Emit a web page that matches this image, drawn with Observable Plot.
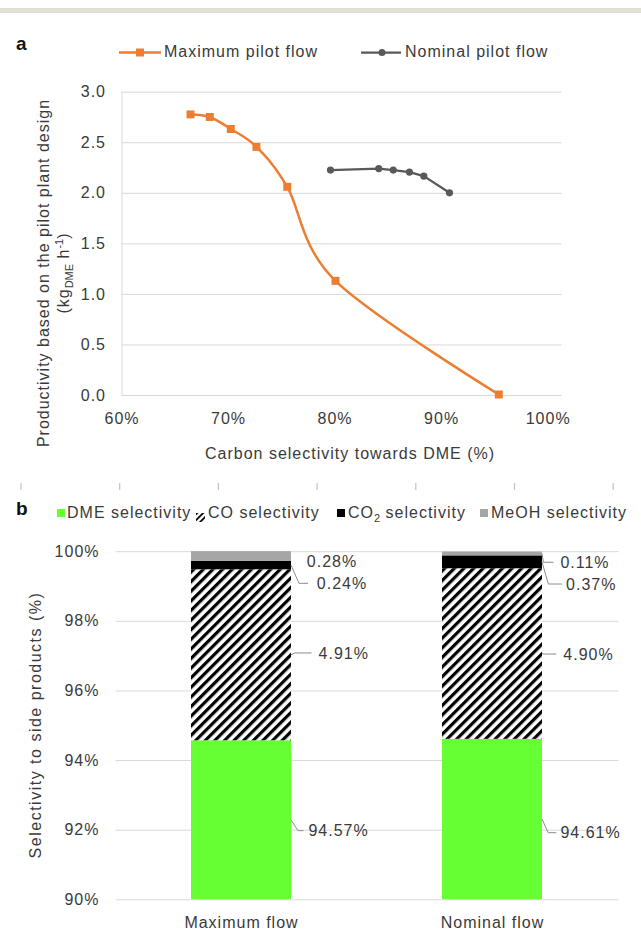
<!DOCTYPE html>
<html>
<head>
<meta charset="utf-8">
<script src="https://cdn.jsdelivr.net/npm/d3@7"></script>
<script src="https://cdn.jsdelivr.net/npm/@observablehq/plot@0.6"></script>
<style>
  body { margin: 0; background: #fff; }
  #fig { position: relative; width: 641px; height: 930px; overflow: hidden;
         font-family: "Liberation Sans", Arial, sans-serif; color: #3a3a3a; background: #fff; }
  .abs { position: absolute; white-space: nowrap; font-size: 16px; line-height: 18px; letter-spacing: 1px; }
  .panel { position: absolute; left: 0; font-weight: bold; color: #111; font-size: 19px; letter-spacing: 0; }
  .sw { position: absolute; width: 8px; height: 8px; }
  sub, sup { font-size: 11px; line-height: 0; letter-spacing: 0; }
</style>
</head>
<body>
<svg width="0" height="0" style="position:absolute">
  <defs>
    <pattern id="hatch" patternUnits="userSpaceOnUse" width="6.8" height="6.8" patternTransform="rotate(45)">
      <rect width="6.8" height="6.8" fill="#fff"></rect>
      <rect width="3.2" height="6.8" fill="#000"></rect>
    </pattern>
    <pattern id="hatchSmall" patternUnits="userSpaceOnUse" width="4.2" height="4.2" patternTransform="rotate(45)">
      <rect width="4.2" height="4.2" fill="#fff"></rect>
      <rect width="1.8" height="4.2" fill="#000"></rect>
    </pattern>
  </defs>
</svg>
<div id="fig"></div>
<script>
// ---- Panel a: productivity vs. carbon selectivity towards DME ----
const maxFlowSelectivity = [66.43, 68.24, 70.21, 72.62, 75.51, 80.04, 95.37];
const maxFlowProductivity = [2.78, 2.755, 2.636, 2.459, 2.064, 1.134, 0.01];
const nominalFlowSelectivity = [79.57, 84.10, 85.46, 86.98, 88.33, 90.74];
const nominalFlowProductivity = [2.23, 2.245, 2.23, 2.21, 2.17, 2.005];
const selectivityTicks = [60, 70, 80, 90, 100];
const productivityTicks = [0, 0.5, 1, 1.5, 2, 2.5, 3];

// ---- Panel b: product selectivity per operating case (%) ----
const flowCases = ["Maximum flow", "Nominal flow"];
const products = ["DME", "CO", "CO2", "MeOH"];
const dmeSelectivity = [94.57, 94.61];
const coSelectivity = [4.91, 4.90];
const co2Selectivity = [0.24, 0.37];
const meohSelectivity = [0.28, 0.11];
const sideProductTicks = [90, 92, 94, 96, 98, 100];

// ---- styling ----
const orange = "#ed7d31", darkGray = "#595959", grid = "#d9d9d9";
const productFill = { DME: "#66ff33", CO: "url(#hatch)", CO2: "#000000", MeOH: "#a6a6a6" };
const textStyle = {
  fontFamily: '"Liberation Sans", Arial, sans-serif', fontSize: "16px",
  color: "#3a3a3a", letterSpacing: "1px", overflow: "visible", background: "transparent"
};
// data-label placement next to each bar segment: text offset from the bar's right edge,
// vertical shift from the segment middle, and leader-line bend / end (px)
const labelNudge = {
  "Maximum flow|DME":  { dx: 16.6, dy: 10.9, kink: 7,   end: 12.5 },
  "Maximum flow|CO":   { dx: 26.8, dy: -1.8, kink: 4,   end: 20.6 },
  "Maximum flow|CO2":  { dx: 25,   dy: 18.2, kink: 8,   end: 17 },
  "Maximum flow|MeOH": { dx: 15,   dy: 5.6,  kink: null },
  "Nominal flow|DME":  { dx: 17.6, dy: 13.6, kink: 6.2, end: 14.3 },
  "Nominal flow|CO":   { dx: 20.5, dy: 0.5,  kink: 2,   end: 14.3 },
  "Nominal flow|CO2":  { dx: 23.3, dy: 22.2, kink: 6.3, end: 20 },
  "Nominal flow|MeOH": { dx: 17.6, dy: 8.8,  kink: 1.5, end: 11.5 }
};

const fig = document.getElementById("fig");
function addDiv(cls, css, html) {
  const el = document.createElement("div");
  el.className = cls;
  el.style.cssText = css;
  el.innerHTML = html;
  fig.appendChild(el);
  return el;
}

// thin rule along the top of the figure
addDiv("", "position:absolute;left:0;top:8px;width:641px;height:5px;background:#e2e0d5;", "");

// ================= Panel a =================
const maxRows = maxFlowSelectivity.map((s, i) => ({ s, p: maxFlowProductivity[i] }));
const nomRows = nominalFlowSelectivity.map((s, i) => ({ s, p: nominalFlowProductivity[i] }));

const plotA = Plot.plot({
  width: 641, height: 380,
  marginTop: 31.7, marginBottom: 45, marginLeft: 121.5, marginRight: 79.5,
  style: textStyle,
  x: { domain: [60, 101.3], ticks: selectivityTicks, tickFormat: d => d + "%", tickSize: 0, tickPadding: 17, label: null },
  y: { domain: [0, 3], ticks: productivityTicks, tickFormat: d3.format(".1f"), tickSize: 0, tickPadding: 16, label: null },
  marks: [
    Plot.ruleY(productivityTicks, { stroke: grid, strokeWidth: 1 }),
    Plot.ruleX([60], { stroke: grid, strokeWidth: 1 }),
    Plot.line(maxRows, { x: "s", y: "p", stroke: orange, strokeWidth: 2.5, curve: "cardinal" }),
    Plot.dot(maxRows, { x: "s", y: "p", symbol: "square", r: 4.5, fill: orange, stroke: null }),
    Plot.line(nomRows, { x: "s", y: "p", stroke: darkGray, strokeWidth: 2.25 }),
    Plot.dot(nomRows, { x: "s", y: "p", r: 3.6, fill: darkGray, stroke: null })
  ]
});
const holderA = addDiv("", "position:absolute;left:0;top:60px;", "");
holderA.appendChild(plotA);

addDiv("panel", "left:16px;top:33px;", "a");
// legend a
addDiv("", "position:absolute;left:118px;top:44px;",
  `<svg width="44" height="17"><line x1="1" y1="8.5" x2="43" y2="8.5" stroke="${orange}" stroke-width="2.5"/>
   <rect x="18" y="4.5" width="8" height="8" fill="${orange}"/></svg>`);
addDiv("abs", "left:164px;top:43px;", "Maximum pilot flow");
addDiv("", "position:absolute;left:360px;top:44px;",
  `<svg width="42" height="17"><line x1="1" y1="8.5" x2="41" y2="8.5" stroke="${darkGray}" stroke-width="2.25"/>
   <circle cx="22" cy="8.5" r="3.5" fill="${darkGray}"/></svg>`);
addDiv("abs", "left:405px;top:43px;", "Nominal pilot flow");

// axis titles a
addDiv("abs", "left:54px;top:273px;transform:translate(-50%,-50%) rotate(-90deg);text-align:center;line-height:20px;",
  "Productivity based on the pilot plant design<br>(kg<sub>DME</sub> h<sup>-1</sup>)");
addDiv("abs", "left:350px;top:454px;transform:translate(-50%,-50%);", "Carbon selectivity towards DME (%)");

// faint separator ticks between the two panels
{
  let ticks = "";
  for (let i = 0; i < 7; i++) {
    const x = 21 + i * 98.7;
    ticks += `<line x1="${x}" y1="0" x2="${x}" y2="7" stroke="#c4c4c4" stroke-width="1.2"/>`;
  }
  addDiv("", "position:absolute;left:0;top:477px;", `<svg width="641" height="8">${ticks}</svg>`);
}

// ================= Panel b =================
const yMinB = 90;
const stackRows = [];
const seriesValues = { DME: dmeSelectivity, CO: coSelectivity, CO2: co2Selectivity, MeOH: meohSelectivity };
flowCases.forEach((flow, i) => {
  let base = 0;
  products.forEach(product => {
    const value = seriesValues[product][i];
    const y1 = base, y2 = base + value;
    stackRows.push({
      flow, product, value, y1, y2,
      mid: (Math.max(y1, yMinB) + y2) / 2,
      label: value.toFixed(2) + "%",
      key: flow + "|" + product
    });
    base = y2;
  });
});

const mLB = 115.5, mRB = 22.5, padInner = 0.6;
const barHalf = ((641 - mLB - mRB) / 2) * (1 - padInner) / 2;

const leaderLines = (index, scales) => {
  const sx = scales.x, sy = scales.y;
  const bw = typeof sx.bandwidth === "function" ? sx.bandwidth() : (sx.bandwidth || 0);
  const g = d3.create("svg:g").attr("fill", "none").attr("stroke", "#8c8c8c").attr("stroke-width", 1);
  for (const d of stackRows) {
    const n = labelNudge[d.key];
    if (n.kink == null) continue;
    const xr = sx(d.flow) + bw;
    const y0 = sy(d.mid), y1 = y0 + n.dy;
    g.append("polyline").attr("points", [[xr, y0], [xr + n.kink, y1], [xr + n.end, y1]].join(" "));
  }
  return g.node();
};

const plotB = Plot.plot({
  width: 641, height: 400,
  marginTop: 21.2, marginBottom: 30.7, marginLeft: mLB, marginRight: mRB,
  style: textStyle,
  x: { domain: flowCases, paddingInner: padInner, paddingOuter: padInner / 2, tickSize: 0, tickPadding: 17, label: null },
  y: { domain: [yMinB, 100], clamp: true, ticks: sideProductTicks, tickFormat: d => d + "%", tickSize: 0, tickPadding: 16.5, label: null },
  marks: [
    Plot.ruleY(sideProductTicks, { stroke: grid, strokeWidth: 1 }),
    ...products.map(p => Plot.barY(stackRows.filter(d => d.product === p),
      { x: "flow", y1: "y1", y2: "y2", fill: productFill[p] })),
    leaderLines,
    ...stackRows.map(d => {
      const n = labelNudge[d.key];
      return Plot.text([d], { x: "flow", y: "mid", text: "label", textAnchor: "start",
        dx: barHalf + n.dx, dy: n.dy, fill: "#3a3a3a" });
    })
  ]
});
const holderB = addDiv("", "position:absolute;left:0;top:530px;", "");
holderB.appendChild(plotB);

addDiv("panel", "left:16px;top:498px;", "b");
// legend b
addDiv("sw", "left:57px;top:509px;background:#66ff33;", "");
addDiv("abs", "left:67px;top:504px;", "DME selectivity");
addDiv("", "position:absolute;left:196px;top:508px;",
  `<svg width="9" height="9"><rect width="9" height="9" fill="url(#hatchSmall)"/></svg>`);
addDiv("abs", "left:208px;top:504px;", "CO selectivity");
addDiv("sw", "left:337px;top:509px;background:#000;", "");
addDiv("abs", "left:348px;top:504px;", "CO<sub>2</sub> selectivity");
addDiv("sw", "left:480px;top:509px;background:#a6a6a6;", "");
addDiv("abs", "left:491px;top:504px;", "MeOH selectivity");

// axis title b
addDiv("abs", "left:36px;top:725px;transform:translate(-50%,-50%) rotate(-90deg);letter-spacing:1.5px;",
  "Selectivity to side products (%)");
</script>
</body>
</html>
